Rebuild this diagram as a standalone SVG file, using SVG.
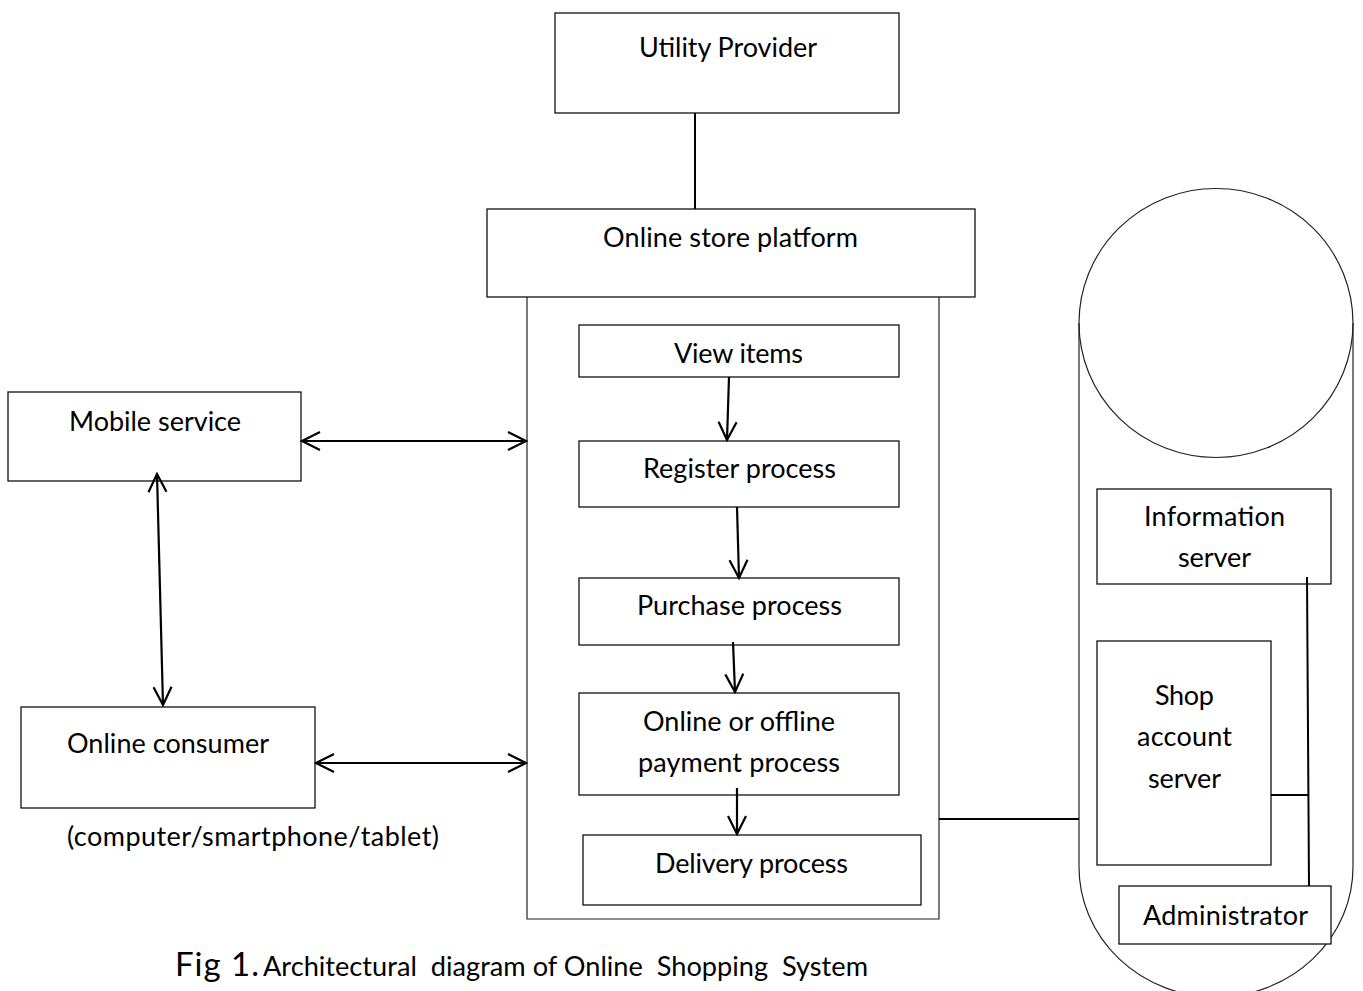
<svg xmlns="http://www.w3.org/2000/svg" width="1363" height="991" viewBox="0 0 1363 991">
  <style>
    .box { fill: #fff; stroke: #111; stroke-width: 1.3; }
    .frame { fill: none; stroke: #222; stroke-width: 1.2; }
    .lbl { font-family: Lato, "Open Sans", "Liberation Sans", sans-serif; font-size: 27px; fill: #000; }
    .link { stroke: #000; stroke-width: 2; fill: none; }
    .arrow { stroke: #000; stroke-width: 2.2; fill: none; marker-end: url(#head); }
    .both { stroke: #000; stroke-width: 2.2; fill: none; marker-start: url(#head); marker-end: url(#head); }
  </style>
  <defs>
    <marker id="head" markerUnits="userSpaceOnUse" viewBox="0 0 22 22" markerWidth="22" markerHeight="22" refX="20" refY="11" orient="auto-start-reverse">
      <path d="M2,2 L20,11 L2,20" fill="none" stroke="#000" stroke-width="2.2"/>
    </marker>
  </defs>
  <rect width="1363" height="991" fill="#fff"/>

  <!-- platform column frame -->
  <g id="platform-frame">
    <path class="frame" d="M527,297 L527,919 L939,919 L939,297"/>
  </g>

  <!-- storage cylinder -->
  <g id="server-cylinder">
    <ellipse class="frame" cx="1216" cy="323" rx="137" ry="134.5"/>
    <path class="frame" d="M1079,323 L1079,867 A137,130 0 0 0 1353,867 L1353,323"/>
  </g>

  <g id="utility-provider">
    <rect class="box" x="555" y="13" width="344" height="100"/>
    <text class="lbl" x="639" y="57" textLength="178">Utility Provider</text>
  </g>

  <g id="online-store-platform">
    <rect class="box" x="487" y="209" width="488" height="88"/>
    <text class="lbl" x="603" y="247" textLength="255">Online store platform</text>
  </g>

  <g id="view-items">
    <rect class="box" x="579" y="325" width="320" height="52"/>
    <text class="lbl" x="674" y="363" textLength="129">View items</text>
  </g>

  <g id="register-process">
    <rect class="box" x="579" y="441" width="320" height="66"/>
    <text class="lbl" x="643" y="478" textLength="193">Register process</text>
  </g>

  <g id="purchase-process">
    <rect class="box" x="579" y="578" width="320" height="67"/>
    <text class="lbl" x="637" y="615" textLength="205">Purchase process</text>
  </g>

  <g id="payment-process">
    <rect class="box" x="579" y="693" width="320" height="102"/>
    <text class="lbl" x="643" y="731" textLength="192">Online or offline</text>
    <text class="lbl" x="638" y="772" textLength="202">payment process</text>
  </g>

  <g id="delivery-process">
    <rect class="box" x="583" y="835" width="338" height="70"/>
    <text class="lbl" x="655" y="873" textLength="193">Delivery process</text>
  </g>

  <g id="mobile-service">
    <rect class="box" x="8" y="392" width="293" height="89"/>
    <text class="lbl" x="69" y="431" textLength="172">Mobile service</text>
  </g>

  <g id="online-consumer">
    <rect class="box" x="21" y="707" width="294" height="101"/>
    <text class="lbl" x="67" y="753" textLength="202">Online consumer</text>
    <text class="lbl" x="67" y="846" textLength="372">(computer/smartphone/tablet)</text>
  </g>

  <g id="information-server">
    <rect class="box" x="1097" y="489" width="234" height="95"/>
    <text class="lbl" x="1144" y="526" textLength="141">Information</text>
    <text class="lbl" x="1178" y="567" textLength="73">server</text>
  </g>

  <g id="shop-account-server">
    <rect class="box" x="1097" y="641" width="174" height="224"/>
    <text class="lbl" x="1155" y="705" textLength="59">Shop</text>
    <text class="lbl" x="1137" y="746" textLength="95">account</text>
    <text class="lbl" x="1148" y="788" textLength="73">server</text>
  </g>

  <g id="administrator">
    <rect class="box" x="1119" y="886" width="212" height="58"/>
    <text class="lbl" x="1143" y="925" textLength="165">Administrator</text>
  </g>

  <g id="connectors">
    <line class="link" x1="695" y1="113" x2="695" y2="209"/>
    <line class="link" x1="939" y1="819" x2="1079" y2="819"/>
    <line class="link" x1="1307" y1="577" x2="1309" y2="886"/>
    <line class="link" x1="1271" y1="795" x2="1308" y2="795"/>
    <line class="both" x1="302" y1="441" x2="526" y2="441"/>
    <line class="both" x1="316" y1="763" x2="526" y2="763"/>
    <line class="both" x1="157" y1="474" x2="163" y2="705"/>
    <line class="arrow" x1="729" y1="377" x2="727" y2="440"/>
    <line class="arrow" x1="737" y1="507" x2="739" y2="578"/>
    <line class="arrow" x1="733" y1="642" x2="735" y2="692"/>
    <line class="arrow" x1="737" y1="788" x2="737" y2="834"/>
  </g>

  <g id="caption">
    <text class="lbl" x="175" y="976" style="font-size:33px" textLength="84">Fig 1.</text>
    <text class="lbl" x="263" y="976" style="font-size:26px; white-space:pre" textLength="605" lengthAdjust="spacingAndGlyphs">Architectural  diagram of Online  Shopping  System</text>
  </g>
</svg>
